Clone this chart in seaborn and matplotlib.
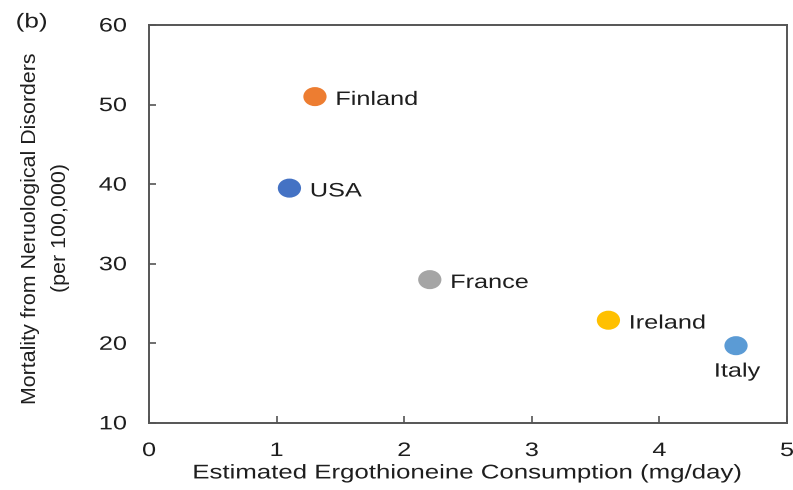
import matplotlib
matplotlib.use("Agg")
import matplotlib.pyplot as plt
import seaborn as sns
import pandas as pd
from matplotlib.path import Path
from matplotlib.patheffects import AbstractPathEffect
from matplotlib.transforms import Affine2D

# Country-level data
countries = ["Finland", "USA", "France", "Ireland", "Italy"]
consumption = [1.3, 1.1, 2.2, 3.6, 4.6]          # mg/day
mortality = [51.0, 39.5, 28.0, 22.9, 19.7]      # per 100,000
colors = ["#ED7D31", "#4472C4", "#A5A5A5", "#FFC000", "#5B9BD5"]

x_ticks = [0, 1, 2, 3, 4, 5]
y_ticks = [10, 20, 30, 40, 50, 60]

SX = 1.3  # horizontal widening of glyphs


class HStretch(AbstractPathEffect):
    """Widen drawn text horizontally around an anchor (0=left, 0.5=center, 1=right)."""

    def __init__(self, sx, frac):
        super().__init__()
        self.sx = sx
        self.frac = frac

    def draw_path(self, renderer, gc, tpath, affine, rgbFace=None):
        ext = tpath.get_extents(affine)
        x0 = ext.x0 + self.frac * (ext.x1 - ext.x0)
        t = affine + Affine2D().translate(-x0, 0).scale(self.sx, 1).translate(x0, 0)
        renderer.draw_path(gc, tpath, t, rgbFace)


sns.set_style("white")
plt.rcParams["font.family"] = ["Liberation Sans", "DejaVu Sans"]

df = pd.DataFrame({"country": countries, "x": consumption, "y": mortality})

# slightly wide oval marker
circ = Path.unit_circle()
oval = Path(circ.vertices * [1.22, 1.0], circ.codes)

fig = plt.figure(figsize=(7.93, 4.90), dpi=100)
ax = fig.add_axes([0.188, 0.137, 0.8045, 0.812])

sns.scatterplot(data=df, x="x", y="y", hue="country", palette=colors,
                s=280, marker=oval, edgecolor="none", linewidth=0,
                legend=False, ax=ax, zorder=3)

txtcol = "#1e1e1e"
# Country labels: right of the marker, except Italy below it
for c, xv, yv in zip(countries, consumption, mortality):
    if c == "Italy":
        t = ax.annotate(c, (xv, yv), xytext=(1, -22.3), textcoords="offset points",
                        ha="center", va="baseline", fontsize=14, color=txtcol)
        t.set_path_effects([HStretch(SX, 0.5)])
    else:
        t = ax.annotate(c, (xv, yv), xytext=(15, -6), textcoords="offset points",
                        ha="left", va="baseline", fontsize=14, color=txtcol)
        t.set_path_effects([HStretch(SX, 0.0)])

ax.set_xlim(0, 5)
ax.set_ylim(10, 60)
ax.set_xticks(x_ticks)
ax.set_yticks(y_ticks)
ax.tick_params(axis="x", direction="in", length=5, width=1.2, color="#555555",
               pad=14.5, labelsize=14, labelcolor=txtcol, top=False, bottom=True)
ax.tick_params(axis="y", direction="in", length=5, width=1.2, color="#555555",
               pad=16, labelsize=14, labelcolor=txtcol, left=True, right=False)
for lab in ax.get_xticklabels():
    lab.set_path_effects([HStretch(SX, 0.5)])
for lab in ax.get_yticklabels():
    lab.set_path_effects([HStretch(SX, 1.0)])

for sp in ax.spines.values():
    sp.set_color("#555555")
    sp.set_linewidth(1.4)
    sp.set_visible(True)

xl = ax.set_xlabel("Estimated Ergothioneine Consumption (mg/day)", fontsize=14.3,
                   color=txtcol)
xl.set_path_effects([HStretch(SX, 0.5)])
ax.xaxis.set_label_coords(0.5, -0.102)
ax.set_ylabel("Mortality from Neruological Disorders\n(per 100,000)", fontsize=15.4,
              color=txtcol, linespacing=1.7)
ax.yaxis.set_label_coords(-0.124, 0.49)

tb = fig.text(16 / 793, 1 - 22 / 490, "(b)", fontsize=14.5, color=txtcol,
              ha="left", va="center")
tb.set_path_effects([HStretch(SX, 0.0)])

fig.savefig("out.png", dpi=100, facecolor="white")
